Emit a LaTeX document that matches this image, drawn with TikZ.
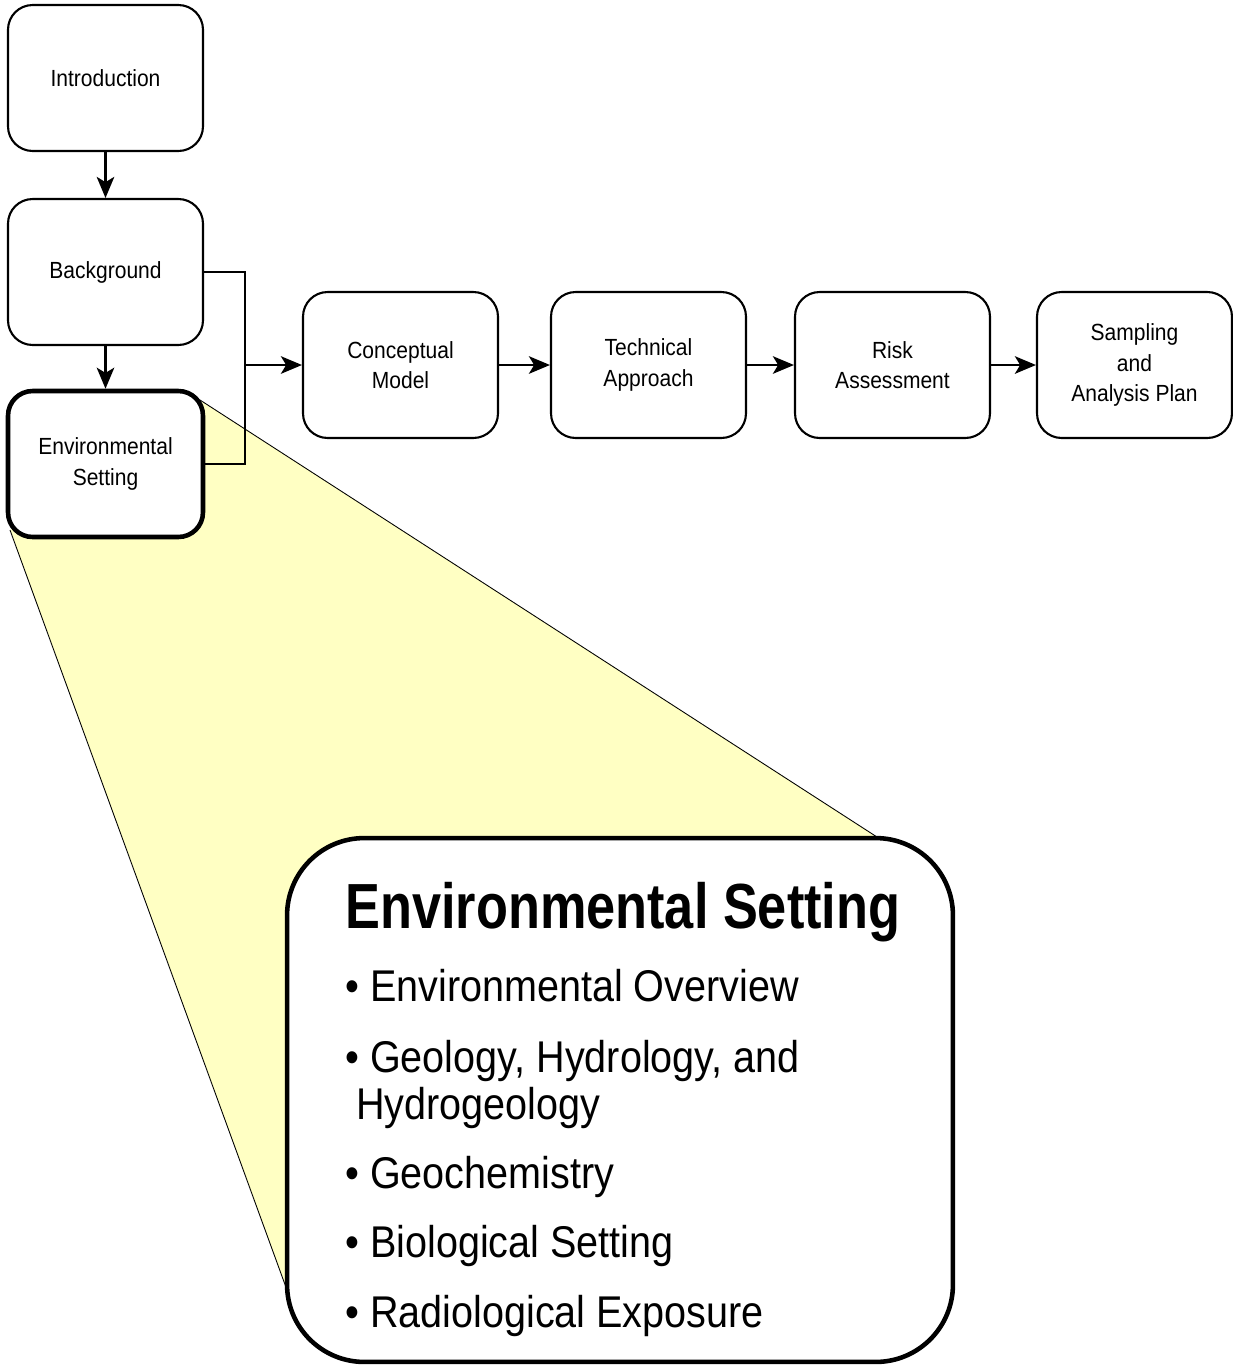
\documentclass[tikz,border=0pt]{standalone}
\usepackage{fontspec}
\setmainfont{Liberation Sans}
\newfontfamily\boxfont{Liberation Sans}[FakeStretch=0.9]
\newfontfamily\itemfont{Liberation Sans}[FakeStretch=0.89]
\newfontfamily\headfont{Liberation Sans}[FakeStretch=0.82]
\usetikzlibrary{arrows.meta}
\definecolor{zoomfill}{RGB}{255,255,195}
\tikzset{
  stepbox/.style={draw, line width=1.2pt, fill=white, rounded corners=14pt,
    minimum width=3.9cm, minimum height=2.92cm, inner sep=0pt, align=center,
    font=\boxfont\fontsize{13.3pt}{17.4pt}\selectfont},
  focusbox/.style={stepbox, line width=2.6pt},
  detailbox/.style={draw, line width=2.6pt, fill=white, rounded corners=44pt,
    minimum width=13.32cm, minimum height=10.48cm, inner sep=0pt},
  flow/.style={line width=1.2pt, -{Stealth[length=12pt,width=10pt,inset=3pt]}},
  link/.style={line width=1.2pt},
  edge/.style={line width=0.5pt},
  headline/.style={anchor=base west, inner sep=0pt,
    font=\headfont\bfseries\fontsize{36.3pt}{40pt}\selectfont},
  itemline/.style={anchor=base west, inner sep=0pt,
    font=\itemfont\fontsize{25.3pt}{30pt}\selectfont}
}
\begin{document}
\begin{tikzpicture}[x=0.02cm, y=-0.02cm]
\useasboundingbox (0,0) rectangle (1233,1367);

% magnified region behind the detail box
\fill[zoomfill] (200,400) -- (877,837) -- (287,1290) -- (10,530) -- cycle;
\draw[edge] (200,400) -- (877,837);
\draw[edge] (10,530) -- (287,1290);

% report sections
\node[stepbox] (intro) at (105.5,78) {Introduction};
\node[stepbox] (bkg) at (105.5,272) {Background};
\node[focusbox] (env) at (105.5,464) {Environmental\\Setting};
\node[stepbox] (concept) at (400.5,365) {Conceptual\\Model};
\node[stepbox] (tech) at (648.5,365) {Technical\\Approach};
\node[stepbox] (risk) at (892.5,365) {Risk\\Assessment};
\node[stepbox] (sap) at (1134.5,365) {Sampling\\and\\Analysis Plan};

% connectors
\draw[flow] (intro.south) -- (bkg.north);
\draw[flow] (bkg.south) -- (env.north);
\coordinate (join) at (245,365);
\draw[link] (bkg.east) -- (245,272) -- (245,464) -- (env.east);
\draw[flow] (join) -- (concept.west);
\draw[flow] (concept.east) -- (tech.west);
\draw[flow] (tech.east) -- (risk.west);
\draw[flow] (risk.east) -- (sap.west);

% detail of the environmental setting section
\node[detailbox] (detail) at (620,1100) {};
\node[headline] (head) at (345,928) {Environmental Setting};
\node[itemline] (i1) at (345,1001) {• Environmental Overview};
\node[itemline] (i2) at (345,1072) {• Geology, Hydrology, and};
\node[itemline] (i2b) at (356,1119) {Hydrogeology};
\node[itemline] (i3) at (345,1188) {• Geochemistry};
\node[itemline] (i4) at (345,1257) {• Biological Setting};
\node[itemline] (i5) at (345,1327) {• Radiological Exposure};
\end{tikzpicture}
\end{document}
